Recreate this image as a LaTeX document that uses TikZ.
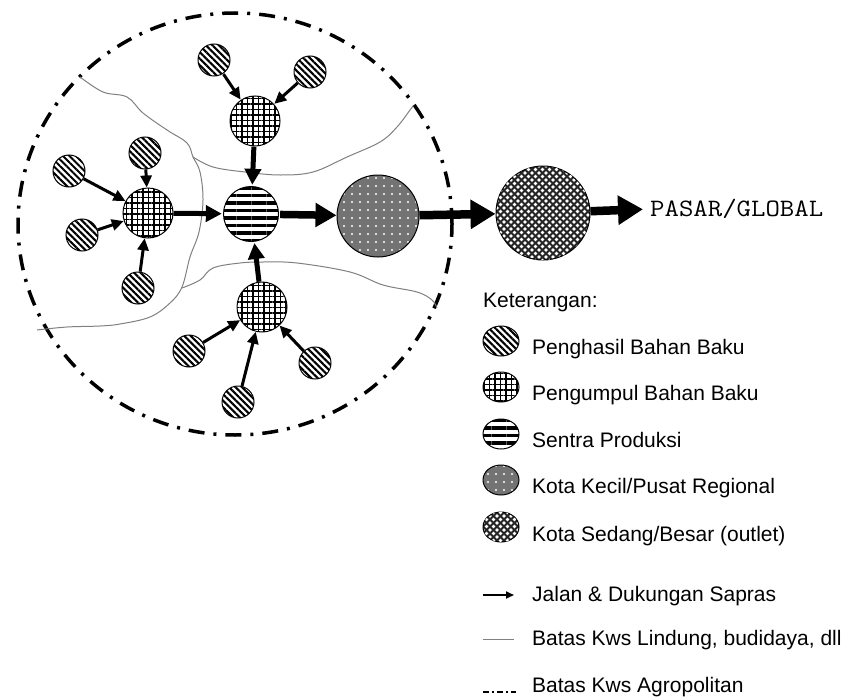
\documentclass[tikz,border=0pt]{standalone}
\usepackage{fontspec}
\setmainfont{Liberation Sans}
\usetikzlibrary{arrows.meta,patterns.meta,shapes.geometric}
\begin{document}
\begin{tikzpicture}[x=1pt,y=-1pt,
  bub/.style={circle, draw=black, line width=1pt, inner sep=0pt},
  prodfill/.style={preaction={fill=white}, pattern={Lines[angle=-45,distance=4.6pt,line width=2.1pt]}},
  collfill/.style={preaction={fill=white}, pattern={Hatch[angle=0,distance=5.5pt,line width=1.5pt]}},
  sentfill/.style={preaction={fill=white}, pattern={Lines[angle=0,distance=7.5pt,line width=3.4pt]}},
  kecilfill/.style={preaction={fill=black!55}, pattern color=white, pattern={Dots[distance=8pt,radius=1.1pt]}},
  sedangfill/.style={preaction={fill=black!85}, pattern color=white, pattern={Dots[distance=7pt,radius=1.98pt]},
     postaction={pattern color=white, pattern={Dots[distance=7pt,radius=1.98pt,xshift=3.5pt,yshift=3.5pt]}}},
  prod/.style={bub, minimum size=32pt, prodfill},
  coll/.style={bub, minimum size=50pt, collfill},
  sent/.style={bub, minimum size=55pt, sentfill},
  kecil/.style={bub, minimum size=82pt, kecilfill},
  sedang/.style={bub, minimum size=94pt, sedangfill},
  leg/.style={ellipse, draw=black, line width=1pt, inner sep=0pt, minimum width=36pt, minimum height=30pt},
  thinarr/.style={-{Triangle[length=12pt,width=11pt]}, line width=3pt},
  midarr/.style={-{Triangle[length=16pt,width=16pt]}, line width=5pt},
  bigarr/.style={-{Triangle[length=21pt,width=23pt]}, line width=7.5pt},
  hugearr/.style={-{Triangle[length=25pt,width=28pt]}, line width=8.5pt},
  boundary/.style={draw=black!50, line width=1pt},
  agro/.style={line width=3.5pt, dash pattern=on 16pt off 9pt on 3pt off 9pt},
  legtext/.style={anchor=base west, font=\fontsize{21}{24}\selectfont, inner sep=0pt}
]
\useasboundingbox (0,0) rectangle (850,698);

% agropolitan boundary
\draw[agro] (235,224) ellipse [x radius=217pt, y radius=211pt];

% protected/cultivation boundaries
\draw[boundary] plot[smooth, tension=0.6] coordinates {(80,77) (103,92) (127,97) (143,113) (167,130) (187,143) (193,157) (200,172) (203,200) (199,232) (190,257) (182,287) (170,303) (150,317) (120,324) (100,326) (67,327) (37,330)};
\draw[boundary] plot[smooth, tension=0.6] coordinates {(193,157) (213,167) (245,172) (280,175) (313,172) (347,157) (380,142) (397,127) (410,110) (413,106)};
\draw[boundary] plot[smooth, tension=0.6] coordinates {(182,288) (200,280) (213,268) (240,263) (263,262) (297,263) (350,272) (383,285) (417,292) (432,300) (437,308)};

% nodes
\node[prod] (t1) at (214,60) {};
\node[prod] (t2) at (310,72) {};
\node[prod] (l1) at (69,171) {};
\node[prod] (l2) at (145,153) {};
\node[prod] (l3) at (82,235) {};
\node[prod] (l4) at (138,288) {};
\node[prod] (b1) at (189,351) {};
\node[prod] (b2) at (238,402) {};
\node[prod] (b3) at (315,363) {};
\node[coll] (ct) at (255,121) {};
\node[coll] (cl) at (148,213) {};
\node[coll] (cb) at (262,307) {};
\node[sent] (s) at (251,214) {};
\node[kecil] (kk) at (378,216) {};
\node[sedang] (ks) at (543,213) {};
\node[anchor=west, inner sep=0pt, font=\ttfamily\fontsize{25}{28}\selectfont] (pasar) at (650,209) {\scalebox{1.12}[1]{PASAR/GLOBAL}};

% arrows
\draw[thinarr] (t1) -- (ct);
\draw[thinarr] (t2) -- (ct);
\draw[thinarr] (l1) -- (cl);
\draw[thinarr] (l2) -- (cl);
\draw[thinarr] (l3) -- (cl);
\draw[thinarr] (l4) -- (cl);
\draw[thinarr] (b1) -- (cb);
\draw[thinarr] (b2) -- (cb);
\draw[thinarr] (b3) -- (cb);
\draw[midarr] (ct) -- (s);
\draw[midarr] (cl) -- (s);
\draw[midarr] (cb) -- (s);
\draw[bigarr] (s) -- (kk);
\draw[hugearr] (kk) -- (ks);
\draw[hugearr, shorten >=7pt] (ks) -- (pasar.west);

% legend
\node[legtext] (kt) at (483,307) {Keterangan:};
\node[leg, prodfill] (g1) at (501,341) {};
\node[legtext] (t1l) at (532,354) {Penghasil Bahan Baku};
\node[leg, collfill] (g2) at (501,387) {};
\node[legtext] (t2l) at (532,400) {Pengumpul Bahan Baku};
\node[leg, sentfill] (g3) at (501,434) {};
\node[legtext] (t3l) at (532,447) {Sentra Produksi};
\node[leg, kecilfill] (g4) at (501,480) {};
\node[legtext] (t4l) at (532,493) {Kota Kecil/Pusat Regional};
\node[leg, sedangfill] (g5) at (501,527) {};
\node[legtext] (t5l) at (532,541) {Kota Sedang/Besar (outlet)};

\coordinate (a1) at (483,595);
\coordinate (a2) at (514,595);
\draw[-{Triangle[length=8pt,width=7pt]}, line width=1.8pt] (a1) -- (a2);
\node[legtext] (t6l) at (532,601) {Jalan \& Dukungan Sapras};

\coordinate (b1l) at (483,639);
\coordinate (b2l) at (514,639);
\draw[boundary] (b1l) -- (b2l);
\node[legtext] (t7l) at (532,645) {Batas Kws Lindung, budidaya, dll};

\coordinate (c1l) at (483,692);
\coordinate (c2l) at (516,692);
\draw[line width=2pt, dash pattern=on 6pt off 3pt on 2pt off 3pt] (c1l) -- (c2l);
\node[legtext] (t8l) at (532,692) {Batas Kws Agropolitan};
\end{tikzpicture}
\end{document}
